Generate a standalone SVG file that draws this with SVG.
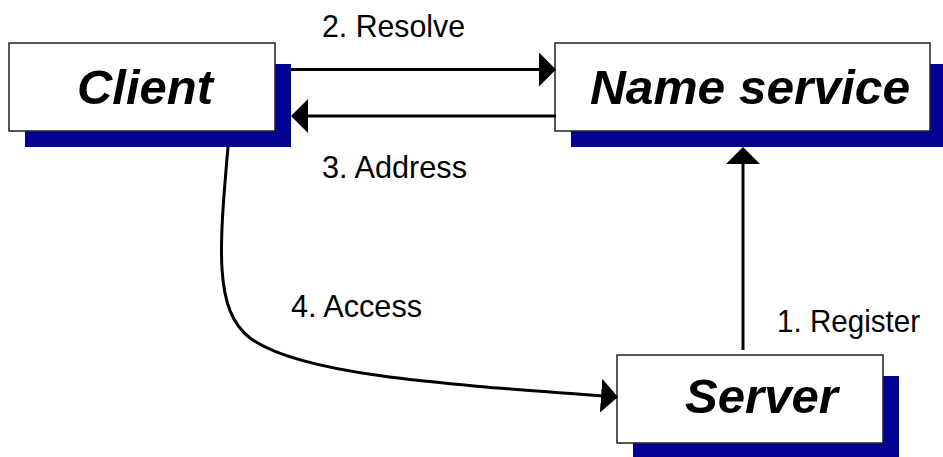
<svg xmlns="http://www.w3.org/2000/svg" width="943" height="457" viewBox="0 0 943 457">
<style>
.shadow{fill:#000091;stroke:none}
.box{fill:#ffffff;stroke:#222222;stroke-width:1.5}
.title{font-family:"Liberation Sans",Arial,sans-serif;font-weight:bold;font-style:italic;font-size:48px;fill:#000000;text-anchor:middle}
.lbl{font-family:"Liberation Sans",Arial,sans-serif;font-size:32px;fill:#000000}
.conn{fill:none;stroke:#000000;stroke-width:3}
</style>
<defs>
<marker id="arrow" markerUnits="userSpaceOnUse" markerWidth="18" markerHeight="34" refX="14" refY="17" orient="auto" viewBox="0 0 18 34">
<path d="M0,0 L17,17 L0,34 Z" fill="#000000"/>
</marker>
</defs>
<rect width="943" height="457" fill="#ffffff"/>
<g id="client">
<rect class="shadow" x="25" y="64" width="266" height="83"/>
<rect class="box" x="9" y="43" width="266" height="88"/>
<text class="title" x="145" y="104" textLength="136" lengthAdjust="spacingAndGlyphs">Client</text>
</g>
<g id="name-service">
<rect class="shadow" x="571" y="64" width="375" height="83"/>
<rect class="box" x="555" y="43" width="375" height="88"/>
<text class="title" x="750" y="104" textLength="320" lengthAdjust="spacingAndGlyphs">Name service</text>
</g>
<g id="server">
<rect class="shadow" x="633" y="376" width="266" height="83"/>
<rect class="box" x="617" y="355" width="266" height="88"/>
<text class="title" x="761.5" y="413" textLength="153" lengthAdjust="spacingAndGlyphs">Server</text>
</g>
<g id="connectors">
<path class="conn" d="M291,69.5 L553,69.5" marker-end="url(#arrow)"/>
<path class="conn" d="M556,116 L294,116" marker-end="url(#arrow)"/>
<path class="conn" d="M743,350 L743,150" marker-end="url(#arrow)"/>
<path class="conn" d="M228,147 C219,250 214,310 250,338 C300,375 440,384 615,396.8" marker-end="url(#arrow)"/>
<text class="lbl" x="322" y="37" textLength="143" lengthAdjust="spacingAndGlyphs">2. Resolve</text>
<text class="lbl" x="322" y="178" textLength="145" lengthAdjust="spacingAndGlyphs">3. Address</text>
<text class="lbl" x="291" y="317" textLength="131" lengthAdjust="spacingAndGlyphs">4. Access</text>
<text class="lbl" x="777" y="332" textLength="143" lengthAdjust="spacingAndGlyphs">1. Register</text>
</g>
</svg>
